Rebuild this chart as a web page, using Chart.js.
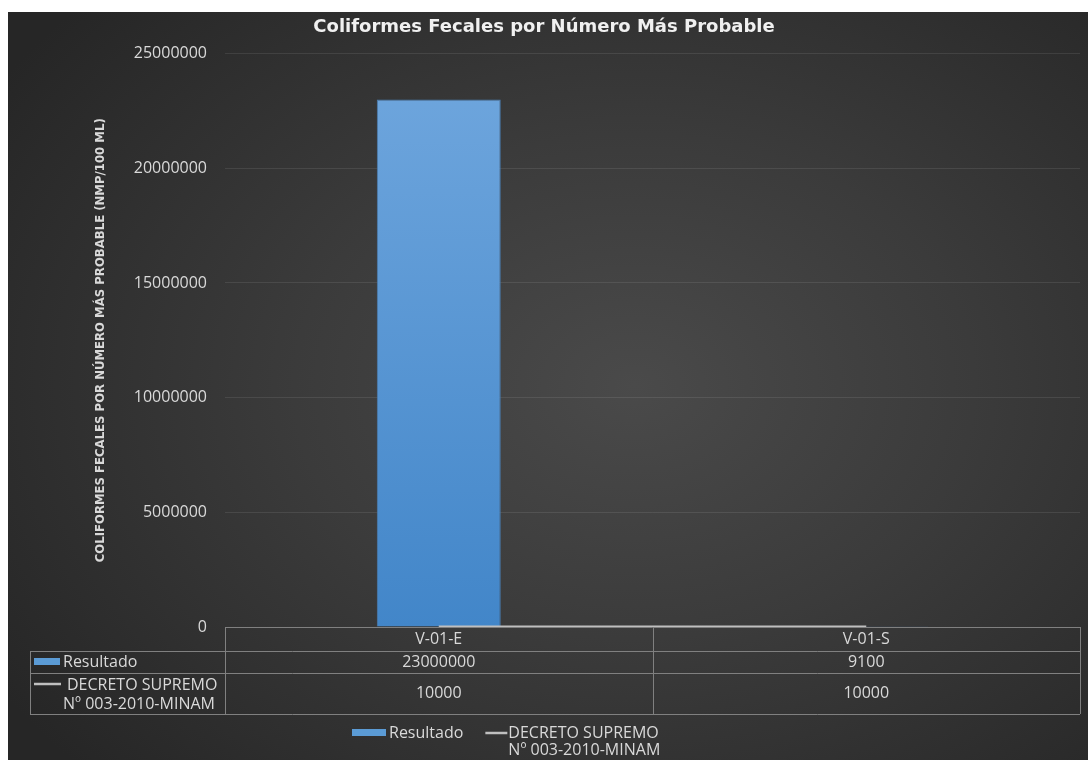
<!DOCTYPE html>
<html>
<head>
<meta charset="utf-8">
<script src="https://cdn.jsdelivr.net/npm/chart.js@4.4.1/dist/chart.umd.min.js"></script>
<style>
  html, body { margin: 0; background: #fff; }
  #wrap {
    position: absolute; left: 8px; top: 12px; width: 1080px; height: 748px;
    background: radial-gradient(ellipse 70% 75% at 58% 50%, #4a4a4a 0%, #3b3b3b 45%, #262626 100%);
  }
</style>
</head>
<body>
<div id="wrap"><canvas id="c" width="1080" height="748"></canvas></div>
<script>
// datos del gráfico
const categories = ['V-01-E', 'V-01-S'];
const resultado = [23000000, 9100];
const decreto = [10000, 10000];
const yMax = 25000000;
const yStep = 5000000;
const serieResultado = 'Resultado';
const serieDecreto = ['DECRETO SUPREMO', 'Nº 003-2010-MINAM'];

const TXT = '#d9d9d9';
const FONT = '"Open Sans", sans-serif';
const BORDER = '#808080';

// tabla de datos + leyenda, dibujadas bajo el área del gráfico
const tablePlugin = {
  id: 'dataTable',
  afterDraw(chart) {
    const { ctx, chartArea: a, scales: { x } } = chart;
    const rows = [a.bottom, a.bottom + 24, a.bottom + 46, a.bottom + 87];
    const labelLeft = 22;
    const cols = [a.left];
    categories.forEach((c, i) => {
      cols.push(i < categories.length - 1
        ? (x.getPixelForValue(i) + x.getPixelForValue(i + 1)) / 2
        : a.right);
    });

    ctx.save();
    ctx.strokeStyle = BORDER;
    ctx.lineWidth = 1;
    ctx.beginPath();
    // horizontales
    ctx.moveTo(a.left, rows[0] + 0.5); ctx.lineTo(a.right, rows[0] + 0.5);
    for (let r = 1; r < rows.length; r++) {
      ctx.moveTo(labelLeft, rows[r] + 0.5); ctx.lineTo(a.right, rows[r] + 0.5);
    }
    // verticales
    ctx.moveTo(labelLeft + 0.5, rows[1]); ctx.lineTo(labelLeft + 0.5, rows[3]);
    cols.forEach(cx => { ctx.moveTo(Math.round(cx) + 0.5, rows[0]); ctx.lineTo(Math.round(cx) + 0.5, rows[3]); });
    ctx.stroke();

    ctx.fillStyle = TXT;
    ctx.font = '16px ' + FONT;
    ctx.textBaseline = 'middle';
    ctx.textAlign = 'center';
    categories.forEach((c, i) => {
      const cx = (cols[i] + cols[i + 1]) / 2;
      ctx.fillText(c, cx, (rows[0] + rows[1]) / 2);
      ctx.fillText(String(resultado[i]), cx, (rows[1] + rows[2]) / 2);
      ctx.fillText(String(decreto[i]), cx, (rows[2] + rows[3]) / 2);
    });

    // etiquetas de fila
    ctx.fillStyle = '#5b9bd5';
    ctx.fillRect(labelLeft + 4, (rows[1] + rows[2]) / 2 - 4, 26, 7);
    ctx.fillStyle = TXT;
    ctx.textAlign = 'left';
    ctx.fillText(serieResultado, labelLeft + 33, (rows[1] + rows[2]) / 2);
    ctx.strokeStyle = '#bfbfbf';
    ctx.lineWidth = 2.5;
    ctx.beginPath();
    ctx.moveTo(labelLeft + 4, rows[2] + 11); ctx.lineTo(labelLeft + 31, rows[2] + 11);
    ctx.stroke();
    ctx.fillText(serieDecreto[0], labelLeft + 37, rows[2] + 12);
    ctx.fillText(serieDecreto[1], labelLeft + 33, rows[2] + 31);

    // leyenda
    const ly = 721, lx = 344;
    ctx.fillStyle = '#5b9bd5';
    ctx.fillRect(lx, ly - 4, 34, 7);
    ctx.fillStyle = TXT;
    ctx.fillText(serieResultado, lx + 37, ly);
    const l2 = lx + 37 + ctx.measureText(serieResultado).width + 22;
    ctx.beginPath();
    ctx.moveTo(l2, ly); ctx.lineTo(l2 + 22, ly);
    ctx.stroke();
    ctx.fillText(serieDecreto[0], l2 + 23, ly);
    ctx.fillText(serieDecreto[1], l2 + 23, ly + 17);
    ctx.restore();
  }
};

new Chart(document.getElementById('c'), {
  data: {
    labels: categories,
    datasets: [
      {
        type: 'bar',
        label: serieResultado,
        data: resultado,
        order: 1,
        backgroundColor: (context) => {
          const { ctx, chartArea } = context.chart;
          if (!chartArea) return '#5b9bd5';
          const g = ctx.createLinearGradient(0, chartArea.top, 0, chartArea.bottom);
          g.addColorStop(0, '#70a7de');
          g.addColorStop(1, '#4286c9');
          return g;
        },
        borderColor: '#4a7fb5',
        borderWidth: 1,
        categoryPercentage: 1,
        barPercentage: 0.29
      },
      {
        type: 'line',
        label: serieDecreto.join(' '),
        data: decreto,
        order: 0,
        borderColor: '#bfbfbf',
        borderWidth: 2.5,
        pointRadius: 0,
        fill: false
      }
    ]
  },
  options: {
    responsive: false,
    animation: false,
    layout: { padding: { left: 0, right: 8, top: 0, bottom: 133 } },
    plugins: {
      legend: { display: false },
      tooltip: { enabled: false },
      title: {
        display: true,
        text: 'Coliformes Fecales por Número Más Probable',
        color: '#f0f0f0',
        font: { family: '"DejaVu Sans", sans-serif', size: 18, weight: 'bold' },
        padding: { top: 5, bottom: 15 }
      }
    },
    scales: {
      x: { display: false },
      y: {
        min: 0,
        max: yMax,
        ticks: {
          stepSize: yStep,
          color: TXT,
          font: { family: FONT, size: 16 },
          padding: 18,
          callback: (v) => String(v)
        },
        grid: { color: 'rgba(255,255,255,0.09)', drawTicks: false },
        border: { display: false },
        title: {
          display: true,
          text: 'COLIFORMES FECALES POR NÚMERO MÁS PROBABLE (NMP/100 ML)',
          color: TXT,
          font: { family: '"DejaVu Sans Condensed", "Liberation Sans Narrow", sans-serif', size: 13, weight: 'bold' },
          padding: { top: 85, bottom: 0 }
        },
        afterFit(s) { s.width = 217; }
      }
    }
  },
  plugins: [tablePlugin]
});
</script>
</body>
</html>
